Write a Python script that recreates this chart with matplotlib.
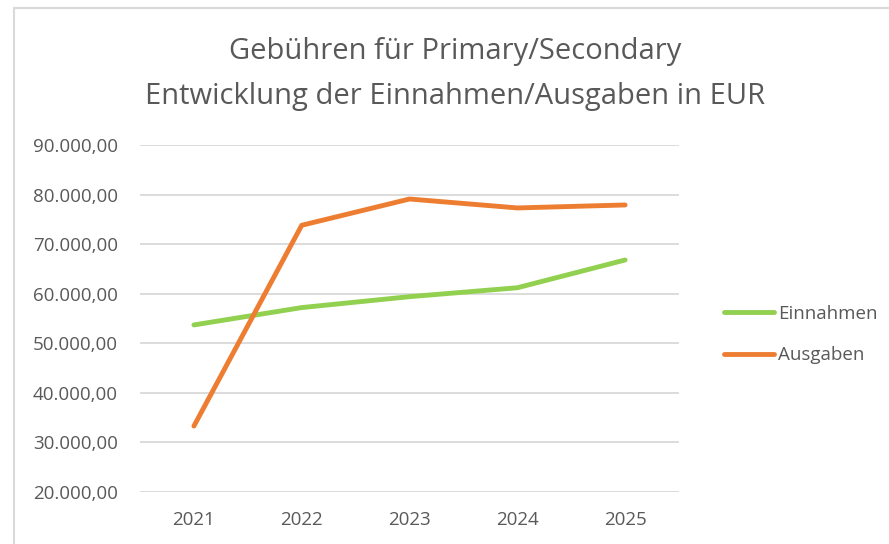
import matplotlib.pyplot as plt
from matplotlib.ticker import FuncFormatter
from matplotlib.patches import Rectangle

years = ["2021", "2022", "2023", "2024", "2025"]
einnahmen = [53700, 57200, 59400, 61200, 66800]
ausgaben = [33300, 73800, 79100, 77300, 77900]

plt.rcParams['font.family'] = ['Open Sans', 'DejaVu Sans']
grey = '#595959'

fig = plt.figure(figsize=(8.89, 5.44), dpi=100)
ax = fig.add_axes([0.1575, 0.0956, 0.6063, 0.6379])

x = range(len(years))
ax.plot(x, einnahmen, color='#92d050', lw=3.5, solid_capstyle='round', label='Einnahmen')
ax.plot(x, ausgaben, color='#ed7d31', lw=3.5, solid_capstyle='round', label='Ausgaben')

ax.set_xlim(-0.5, 4.5)
ax.set_ylim(20000, 90000)
ax.set_yticks(range(20000, 90001, 10000))
ax.set_xticks(list(x))
ax.set_xticklabels(years)


def de_fmt(v, pos):
    s = f"{v:,.2f}"
    return s.replace(',', 'X').replace('.', ',').replace('X', '.')


ax.yaxis.set_major_formatter(FuncFormatter(de_fmt))
ax.grid(axis='y', color='#d9d9d9', lw=1.3)
ax.set_axisbelow(True)
for s in ax.spines.values():
    s.set_visible(False)
ax.tick_params(length=0, labelsize=13.5, colors=grey, pad=16)
ax.tick_params(axis='x', pad=14)

fig.text(0.512, 0.905, "Gebühren für Primary/Secondary", ha='center', va='center',
         fontsize=21, color=grey)
fig.text(0.512, 0.822, "Entwicklung der Einnahmen/Ausgaben in EUR", ha='center', va='center',
         fontsize=21, color=grey)

fig.legend(loc='center left', bbox_to_anchor=(0.795, 0.385), frameon=False,
           fontsize=13.5, labelcolor=grey, handlelength=2.7, handletextpad=0.2,
           labelspacing=1.25)

fig.patches.append(Rectangle((14 / 889, -0.1), 1.2, 1 - 8 / 544 + 0.1,
                             transform=fig.transFigure, fill=False,
                             edgecolor='#d9d9d9', lw=1.5))

fig.savefig('out.png', dpi=100)
